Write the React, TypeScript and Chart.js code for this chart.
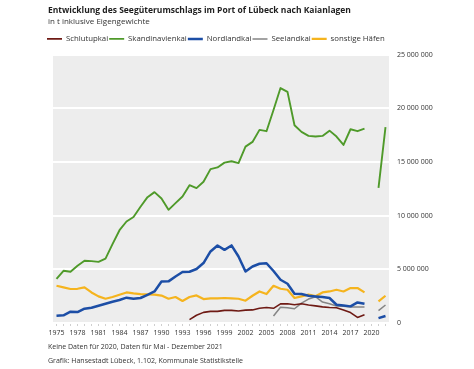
import React, { useEffect, useRef } from "react";
import { Chart, registerables } from "chart.js";
Chart.register(...registerables);

const years = [
  "1975","1976","1977","1978","1979","1980","1981","1982","1983","1984",
  "1985","1986","1987","1988","1989","1990","1991","1992","1993","1994",
  "1995","1996","1997","1998","1999","2000","2001","2002","2003","2004",
  "2005","2006","2007","2008","2009","2010","2011","2012","2013","2014",
  "2015","2016","2017","2018","2019","2020","2021","2022",
];

const labeledYears = ["1975","1978","1981","1984","1987","1990","1993","1996","1999","2002","2005","2008","2011","2014","2017","2020"];

const yTicks = [0, 5000000, 10000000, 15000000, 20000000, 25000000];

// values in tonnes
const schlutupkai = [
  null,null,null,null,null,null,null,null,null,null,
  null,null,null,null,null,null,null,null,null,310000,
  720000,990000,1080000,1080000,1180000,1180000,1120000,1200000,1220000,1380000,
  1450000,1370000,1780000,1800000,1700000,1800000,1680000,1600000,1500000,1450000,
  1420000,1220000,970000,520000,760000,null,null,null,
];

const skandinavienkai = [
  4120000,4870000,4780000,5330000,5800000,5770000,5700000,6000000,7350000,8650000,
  9460000,9880000,10830000,11730000,12200000,11600000,10550000,11170000,11790000,12850000,
  12570000,13170000,14340000,14500000,14950000,15080000,14900000,16440000,16880000,18000000,
  17880000,19860000,21900000,21540000,18430000,17810000,17440000,17380000,17440000,17930000,
  17380000,16600000,18060000,17880000,18120000,null,12600000,18250000,
];

const nordlandkai = [
  680000,720000,1050000,1020000,1330000,1420000,1610000,1800000,1980000,2140000,
  2360000,2260000,2330000,2630000,2940000,3860000,3880000,4340000,4750000,4780000,
  5030000,5590000,6670000,7230000,6820000,7230000,6200000,4800000,5270000,5520000,
  5570000,4850000,4030000,3660000,2730000,2700000,2540000,2480000,2420000,2330000,
  1700000,1640000,1550000,1920000,1800000,null,450000,650000,
];

const seelandkai = [
  null,null,null,null,null,null,null,null,null,null,
  null,null,null,null,null,null,null,null,null,null,
  null,null,null,null,null,null,null,null,null,null,
  null,650000,1470000,1420000,1330000,1860000,2230000,2450000,1950000,1800000,
  1580000,1550000,1500000,1500000,1500000,null,1150000,1680000,
];

const sonstigeHaefen = [
  3470000,3320000,3170000,3190000,3320000,2850000,2480000,2260000,2420000,2640000,
  2850000,2760000,2700000,2660000,2640000,2560000,2260000,2420000,2050000,2420000,
  2570000,2230000,2290000,2290000,2330000,2290000,2260000,2080000,2540000,2940000,
  2700000,3470000,3190000,3100000,2330000,2480000,2640000,2500000,2850000,2940000,
  3100000,2940000,3260000,3260000,2850000,null,2010000,2540000,
];

const FONT = "'Open Sans', 'Noto Sans', sans-serif";

const fmt = (v: number) => String(v).replace(/\B(?=(\d{3})+(?!\d))/g, " ");

const plotBg = {
  id: "plotBg",
  beforeDraw(chart: any) {
    const { ctx, chartArea } = chart;
    ctx.save();
    ctx.fillStyle = "#ededed";
    ctx.fillRect(chartArea.left, chartArea.top, chartArea.right - chartArea.left, chartArea.bottom - chartArea.top);
    ctx.restore();
  },
};

export default function App() {
  const ref = useRef<HTMLCanvasElement | null>(null);

  useEffect(() => {
    if (!ref.current) return;
    const mk = (label: string, data: any[], color: string, width: number) => ({
      label,
      data,
      borderColor: color,
      backgroundColor: color,
      borderWidth: width,
      pointRadius: 0,
      pointHoverRadius: 0,
      fill: false,
      tension: 0,
      spanGaps: false,
      borderJoinStyle: "round" as const,
      xAxisID: "x",
      yAxisID: "y",
    });
    const chart = new Chart(ref.current, {
      type: "line",
      data: {
        labels: years,
        datasets: [
          mk("Schlutupkai", schlutupkai, "#6e1a14", 1.6),
          mk("Skandinavienkai", skandinavienkai, "#4f9a2a", 1.9),
          mk("Nordlandkai", nordlandkai, "#1c4ea6", 2.5),
          mk("Seelandkai", seelandkai, "#858585", 1.5),
          mk("sonstige Häfen", sonstigeHaefen, "#f5b41e", 2.2),
        ],
      },
      options: {
        responsive: false,
        animation: false,
        events: [],
        layout: { padding: { left: 46, right: 0, top: 34, bottom: 0 } },
        plugins: {
          tooltip: { enabled: false },
          title: { display: false },
          legend: {
            display: true,
            position: "top",
            align: "start",
            labels: {
              usePointStyle: true,
              pointStyle: "line",
              pointStyleWidth: 15,
              padding: 1,
              color: "#333333",
              font: { family: FONT, size: 7.8 },
            },
          },
        },
        scales: {
          x: {
            type: "category",
            position: "bottom",
            offset: true,
            afterFit: (s: any) => { s.height = 46; },
            grid: { display: true, drawOnChartArea: false, drawTicks: true, tickLength: 3, color: "#cfcfcf" },
            border: { display: false },
            ticks: {
              autoSkip: false,
              maxRotation: 0,
              minRotation: 0,
              padding: 3,
              color: "#333333",
              font: { family: FONT, size: 7 },
              callback: (_v: any, i: number) => (labeledYears.includes(years[i]) ? years[i] : ""),
            },
          },
          padT: {
            type: "category",
            position: "top",
            display: true,
            afterFit: (s: any) => { s.height = 2; },
            grid: { display: false },
            border: { display: false },
            ticks: { display: false },
          },
          padL: {
            type: "linear",
            position: "left",
            display: true,
            afterFit: (s: any) => { s.width = 7; },
            grid: { display: false },
            border: { display: false },
            ticks: { display: false },
          },
          y: {
            type: "linear",
            position: "right",
            min: 0,
            max: 25000000,
            afterFit: (s: any) => { s.width = 85; },
            afterBuildTicks: (s: any) => { s.ticks = yTicks.map((v) => ({ value: v })); },
            grid: { color: "#ffffff", lineWidth: 2, drawTicks: false },
            border: { display: false },
            ticks: {
              padding: 8,
              color: "#333333",
              font: { family: FONT, size: 7 },
              callback: (v: any) => fmt(Number(v)),
            },
          },
        },
      },
      plugins: [plotBg],
    } as any);
    return () => chart.destroy();
  }, []);

  const text: React.CSSProperties = { position: "absolute", left: 48, whiteSpace: "nowrap", fontFamily: FONT };

  return (
    <div style={{ position: "absolute", left: 0, top: 0, width: 474, height: 369, background: "#ffffff", overflow: "hidden" }}>
      <canvas ref={ref} width={474} height={369} style={{ position: "absolute", left: 0, top: 0, width: 474, height: 369 }} />
      <div style={{ ...text, top: 4, fontSize: 8.5, lineHeight: "12px", fontWeight: 700, color: "#1e1e1e" }}>
        Entwicklung des Seegüterumschlags im Port of Lübeck nach Kaianlagen
      </div>
      <div style={{ ...text, top: 15, fontSize: 8, lineHeight: "12px", color: "#333333" }}>
        in t inklusive Eigengewichte
      </div>
      <div style={{ ...text, top: 341, fontSize: 7, lineHeight: "11px", color: "#333333" }}>
        Keine Daten für 2020, Daten für Mai - Dezember 2021
      </div>
      <div style={{ ...text, top: 355, fontSize: 7, lineHeight: "11px", color: "#333333" }}>
        Grafik: Hansestadt Lübeck, 1.102, Kommunale Statistikstelle
      </div>
    </div>
  );
}
